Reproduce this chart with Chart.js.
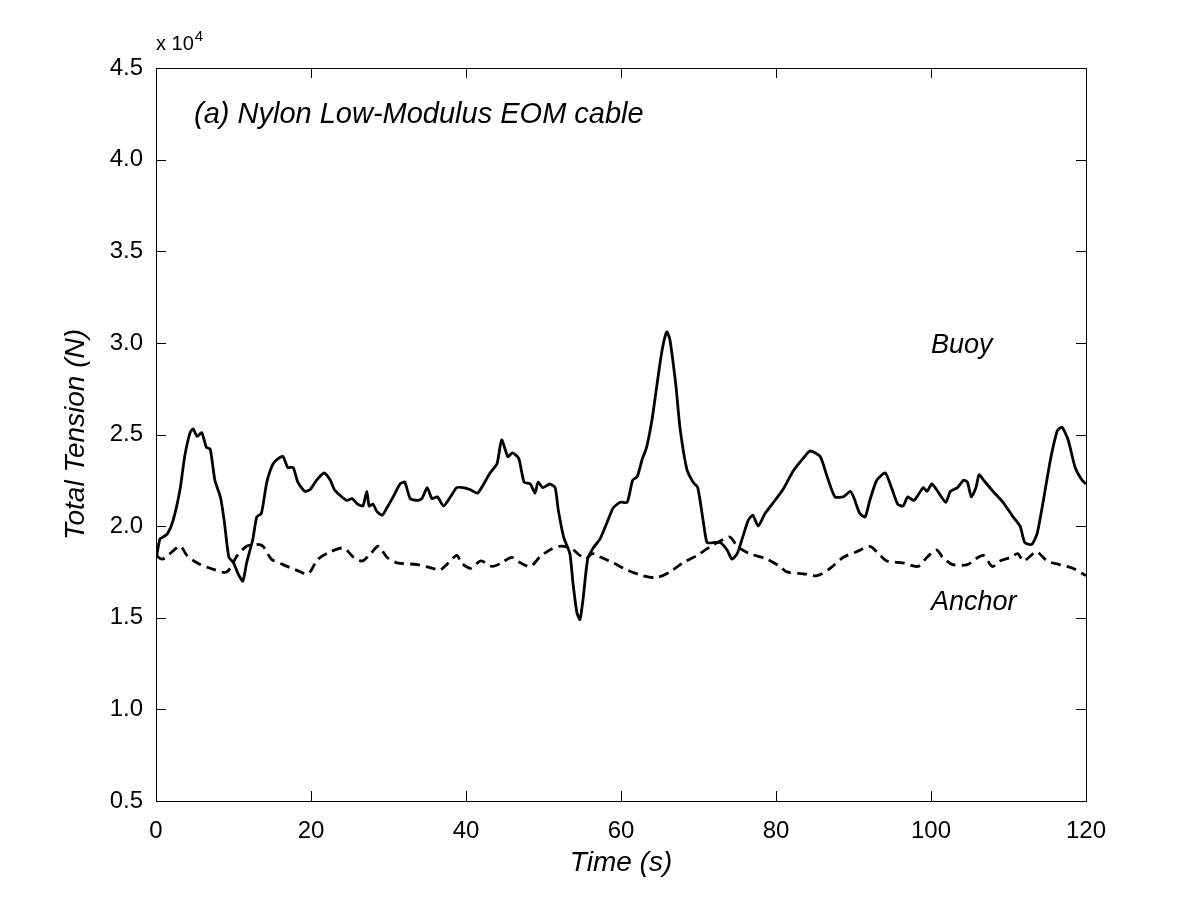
<!DOCTYPE html>
<html>
<head>
<meta charset="utf-8">
<title>Total Tension</title>
<script src="https://cdn.jsdelivr.net/npm/chart.js@4/dist/chart.umd.min.js"></script>
<style>
  html, body { margin: 0; padding: 0; background: #fff; }
  #wrap { width: 1200px; height: 900px; }
</style>
</head>
<body>
<div id="wrap"><canvas id="tensionChart" width="1200" height="900"></canvas></div>
<script>
// values, tension in units of 10^4 N
const buoyTime = [0.1, 0.5, 0.9, 1.5, 2.2, 3.1, 3.7, 4.4, 4.8, 5.3, 5.9, 6.5, 7.0, 7.6, 8.3, 8.8, 9.4, 10.0, 10.6, 11.2,
  11.7, 12.5, 13.0, 13.6, 14.3, 15.1, 15.8, 16.4, 17.0, 17.7, 18.3, 19.2, 19.9, 20.7, 21.7, 22.5, 23.0, 23.7, 24.6, 25.3,
  26.0, 26.7, 27.2, 27.5, 28.0, 28.5, 29.2, 29.8, 30.6, 31.5, 32.1, 32.8, 33.7, 34.3, 35.0, 35.6, 36.3, 37.1, 38.0, 38.8,
  39.6, 40.5, 41.5, 43.1, 44.0, 44.6, 45.4, 46.0, 46.8, 47.5, 48.3, 48.9, 49.3, 49.9, 50.8, 51.5, 51.9, 52.6, 53.4, 53.8,
  54.3, 54.7, 55.1, 55.7, 56.4, 57.3, 58.2, 59.0, 59.9, 60.8, 61.5, 62.1, 62.7, 63.3, 64.0, 64.6, 65.3, 65.9, 66.3, 67.1,
  67.6, 68.5, 69.3, 69.9, 70.6, 71.1, 71.9, 72.8, 73.7, 74.3, 75.0, 75.7, 76.4, 77.0, 77.7, 78.6, 79.5, 80.9, 82.2, 83.5,
  84.4, 85.7, 86.6, 87.6, 88.7, 89.6, 90.0, 90.8, 91.5, 92.1, 93.0, 94.1, 94.9, 95.7, 96.4, 97.0, 97.8, 99.0, 99.5, 100.1,
  100.7, 101.9, 102.5, 103.4, 104.2, 104.7, 105.2, 105.8, 106.2, 106.8, 108.0, 109.3, 110.6, 111.5, 112.1, 113.0, 113.7, 114.5, 115.4, 116.3,
  116.9, 117.7, 118.6, 119.5, 120.0];
const buoyTension = [1.84, 1.93, 1.94, 1.96, 2.03, 2.20, 2.38, 2.51, 2.53, 2.49, 2.51, 2.43, 2.42, 2.25, 2.16, 2.03, 1.83, 1.80, 1.74, 1.70,
  1.80, 1.93, 2.05, 2.07, 2.24, 2.34, 2.37, 2.38, 2.32, 2.32, 2.24, 2.19, 2.20, 2.25, 2.29, 2.25, 2.20, 2.17, 2.14, 2.15,
  2.12, 2.11, 2.19, 2.11, 2.12, 2.08, 2.06, 2.10, 2.16, 2.23, 2.24, 2.15, 2.14, 2.15, 2.21, 2.15, 2.16, 2.11, 2.16, 2.21,
  2.21, 2.20, 2.18, 2.29, 2.34, 2.47, 2.38, 2.40, 2.37, 2.24, 2.23, 2.18, 2.24, 2.21, 2.23, 2.21, 2.09, 1.94, 1.85, 1.69,
  1.53, 1.49, 1.60, 1.82, 1.88, 1.93, 2.02, 2.10, 2.13, 2.13, 2.25, 2.27, 2.36, 2.43, 2.58, 2.76, 2.96, 3.06, 3.02, 2.76,
  2.54, 2.31, 2.24, 2.21, 2.03, 1.91, 1.91, 1.91, 1.87, 1.82, 1.85, 1.94, 2.03, 2.06, 2.00, 2.07, 2.12, 2.20, 2.30, 2.37,
  2.41, 2.38, 2.27, 2.16, 2.16, 2.19, 2.16, 2.07, 2.05, 2.14, 2.25, 2.29, 2.21, 2.12, 2.11, 2.16, 2.14, 2.21, 2.19, 2.23,
  2.20, 2.13, 2.19, 2.21, 2.25, 2.24, 2.16, 2.21, 2.28, 2.25, 2.19, 2.13, 2.05, 2.00, 1.91, 1.90, 1.96, 2.14, 2.36, 2.52,
  2.54, 2.47, 2.32, 2.25, 2.23];

const anchorTime = [0.0, 0.8, 1.8, 3.1, 4.0, 5.3, 7.0, 9.1, 10.5, 11.7, 13.0, 13.8, 14.9, 16.4, 18.1, 19.6, 20.9, 22.5, 24.2, 25.5,
  26.6, 27.7, 28.7, 29.8, 31.1, 33.7, 35.7, 36.6, 37.5, 38.8, 39.4, 40.6, 41.9, 43.4, 44.6, 45.9, 47.0, 48.3, 49.5, 50.8,
  52.1, 53.5, 54.7, 55.4, 56.3, 57.4, 59.0, 60.8, 62.8, 64.6, 66.3, 68.0, 69.8, 71.6, 73.3, 74.1, 75.0, 76.6, 78.8, 80.5,
  81.4, 83.5, 85.3, 87.0, 88.7, 90.4, 92.1, 93.0, 94.3, 96.4, 98.3, 99.5, 100.7, 101.5, 102.8, 104.7, 105.7, 106.8, 107.9, 108.9,
  110.3, 111.2, 111.9, 113.2, 113.7, 115.0, 116.6, 118.3, 120.0];
const anchorTension = [1.84, 1.82, 1.85, 1.89, 1.84, 1.80, 1.77, 1.75, 1.84, 1.89, 1.90, 1.89, 1.82, 1.79, 1.76, 1.74, 1.82, 1.86, 1.88, 1.83,
  1.81, 1.85, 1.89, 1.83, 1.80, 1.79, 1.77, 1.76, 1.79, 1.84, 1.80, 1.77, 1.81, 1.78, 1.80, 1.83, 1.80, 1.78, 1.83, 1.87,
  1.89, 1.88, 1.84, 1.82, 1.85, 1.83, 1.80, 1.76, 1.73, 1.72, 1.75, 1.80, 1.84, 1.89, 1.93, 1.94, 1.89, 1.85, 1.82, 1.78,
  1.75, 1.74, 1.73, 1.77, 1.83, 1.86, 1.89, 1.86, 1.81, 1.80, 1.78, 1.83, 1.87, 1.83, 1.79, 1.79, 1.82, 1.84, 1.78, 1.81,
  1.83, 1.85, 1.81, 1.85, 1.86, 1.81, 1.79, 1.77, 1.73];

const xTicks = [0, 20, 40, 60, 80, 100, 120];
const yTicks = [0.5, 1.0, 1.5, 2.0, 2.5, 3.0, 3.5, 4.0, 4.5];
const plotTitle = "(a) Nylon Low-Modulus EOM cable";
const seriesNames = ["Buoy", "Anchor"];

const FONT = "'Liberation Sans', Arial, sans-serif";

function toPoints(xs, ys) {
  return xs.map((x, i) => ({ x: x, y: ys[i] }));
}

// box + inward ticks on all 4 sides, plus the text labels inside the plot
const framePlugin = {
  id: "frame",
  afterDraw(chart) {
    const ctx = chart.ctx;
    const a = chart.chartArea;
    const xs = chart.scales.x, ys = chart.scales.y;
    const len = 10;
    ctx.save();
    ctx.strokeStyle = "#000";
    ctx.lineWidth = 1;
    ctx.strokeRect(Math.round(a.left) + 0.5, Math.round(a.top) + 0.5,
      Math.round(a.right - a.left), Math.round(a.bottom - a.top));
    ctx.beginPath();
    xTicks.forEach(v => {
      const px = Math.round(xs.getPixelForValue(v)) + 0.5;
      ctx.moveTo(px, a.bottom); ctx.lineTo(px, a.bottom - len);
      ctx.moveTo(px, a.top); ctx.lineTo(px, a.top + len);
    });
    yTicks.forEach(v => {
      const py = Math.round(ys.getPixelForValue(v)) + 0.5;
      ctx.moveTo(a.left, py); ctx.lineTo(a.left + len, py);
      ctx.moveTo(a.right, py); ctx.lineTo(a.right - len, py);
    });
    ctx.stroke();

    ctx.fillStyle = "#000";
    ctx.textBaseline = "alphabetic";
    ctx.textAlign = "left";
    ctx.font = "italic 29px " + FONT;
    ctx.fillText(plotTitle, 194, 123);
    ctx.font = "italic 27px " + FONT;
    ctx.fillText(seriesNames[0], 931, 353);
    ctx.fillText(seriesNames[1], 931, 610);

    // exponent label
    ctx.font = "20px " + FONT;
    ctx.fillText("x 10", 156, 50);
    const w = ctx.measureText("x 10").width;
    ctx.font = "15px " + FONT;
    ctx.fillText("4", 156 + w + 1, 41);
    ctx.restore();
  }
};

new Chart(document.getElementById("tensionChart"), {
  type: "line",
  data: {
    datasets: [
      {
        label: seriesNames[0],
        data: toPoints(buoyTime, buoyTension),
        borderColor: "#000",
        borderWidth: 2.8,
        pointRadius: 0,
        tension: 0.2,
        fill: false
      },
      {
        label: seriesNames[1],
        data: toPoints(anchorTime, anchorTension),
        borderColor: "#000",
        borderWidth: 2.8,
        borderDash: [10, 6],
        pointRadius: 0,
        tension: 0.3,
        fill: false
      }
    ]
  },
  options: {
    responsive: false,
    animation: false,
    devicePixelRatio: 1,
    layout: { padding: { left: 0, right: 114, top: 68, bottom: 0 } },
    plugins: {
      legend: { display: false },
      tooltip: { enabled: false }
    },
    scales: {
      x: {
        type: "linear",
        min: 0,
        max: 120,
        afterBuildTicks: s => { s.ticks = xTicks.map(v => ({ value: v })); },
        afterFit: s => { s.height = 99; },
        grid: { display: false, drawTicks: false },
        border: { display: false },
        ticks: {
          color: "#000",
          padding: 16,
          maxRotation: 0,
          font: { family: FONT, size: 24 }
        },
        title: {
          display: true,
          text: "Time (s)",
          color: "#000",
          padding: { top: 0, bottom: 20 },
          font: { family: FONT, size: 28, style: "italic" }
        }
      },
      y: {
        type: "linear",
        min: 0.5,
        max: 4.5,
        afterBuildTicks: s => { s.ticks = yTicks.map(v => ({ value: v })); },
        afterFit: s => { s.width = 156; },
        grid: { display: false, drawTicks: false },
        border: { display: false },
        ticks: {
          color: "#000",
          padding: 13,
          font: { family: FONT, size: 24 },
          callback: v => v.toFixed(1)
        },
        title: {
          display: true,
          text: "Total Tension (N)",
          color: "#000",
          padding: { top: 59, bottom: 0 },
          font: { family: FONT, size: 28, style: "italic" }
        }
      }
    }
  },
  plugins: [framePlugin]
});
</script>
</body>
</html>
